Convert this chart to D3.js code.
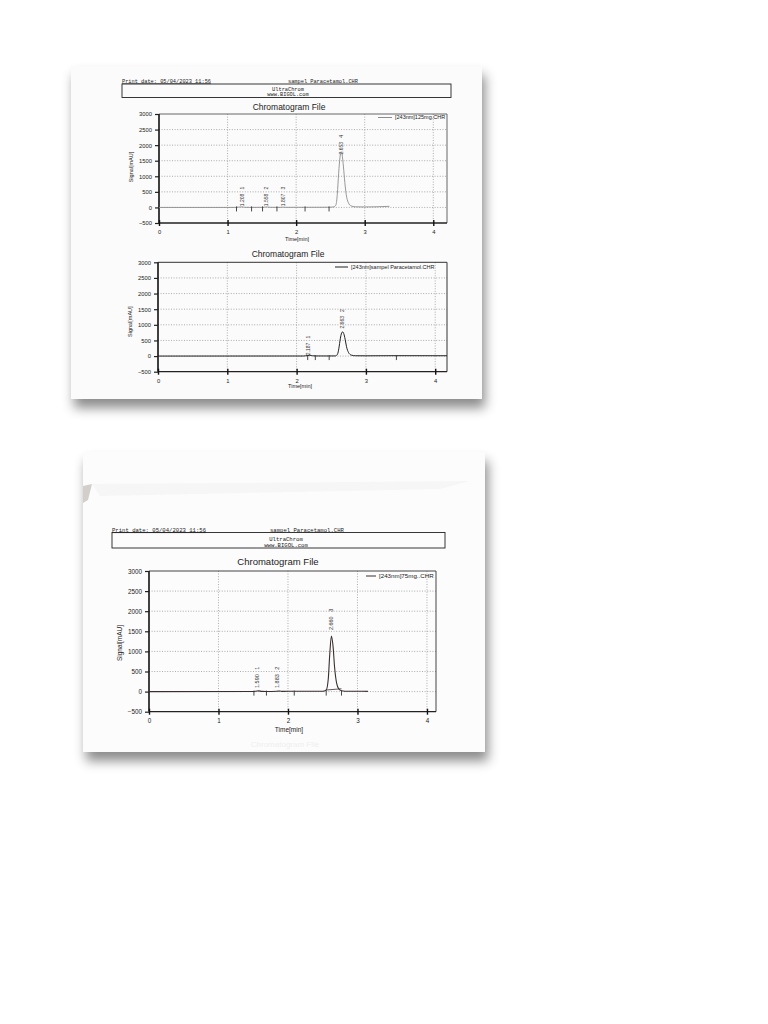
<!DOCTYPE html>
<html><head><meta charset="utf-8">
<script src="https://cdn.jsdelivr.net/npm/d3@7/dist/d3.min.js"></script>
<style>
html,body{margin:0;padding:0;background:#fff;}
svg{display:block;}
text{font-family:"Liberation Sans",Arial,sans-serif;fill:#222;}
.mono{font-family:"Liberation Mono","DejaVu Sans Mono",monospace;}
.pre{white-space:pre;}
</style>
</head><body>
<script>
// ---------- data ----------
const yTicks = [-500, 0, 500, 1000, 1500, 2000, 2500, 3000];
const xTicks = [0, 1, 2, 3, 4];
const chartTitle = "Chromatogram File";
const xAxisTitle = "Time[min]";
const yAxisTitle = "Signal[mAU]";
const printDate = "Print date: 05/04/2023 11:56";
const fileName = "sampel Paracetamol.CHR";
const softwareLines = ["UltraChrom", "www.BIGOL.com"];
const legendLabels = ["[243nm]125mg.CHR", "[243nm]sampel Paracetamol.CHR", "[243nm]75mg..CHR"];

// chart 1: 125 mg standard
const timeP1 = [0, 1.10, 1.13, 1.17, 1.21, 1.25, 1.35, 1.52, 1.55, 1.58, 1.62, 1.72, 1.78, 1.81, 1.84, 2.12, 2.48, 2.55, 2.58, 2.60, 2.62, 2.64, 2.655, 2.67, 2.69, 2.71, 2.73, 2.76, 2.80, 2.86, 3.00, 3.36];
const signalP1 = [0, 0, 3, 12, 18, 4, 2, 3, 12, 14, 4, 2, 4, 10, 3, 4, 6, 20, 80, 420, 1100, 1620, 1790, 1700, 1300, 800, 420, 160, 50, 20, 15, 35];
const marksP1 = [1.13, 1.35, 1.51, 1.72, 2.13, 2.48];
const peakPosP1 = [1.205, 1.56, 1.805, 2.653];
const peakBaseP1 = [40, 40, 40, 1700];
const peakTextP1 = ["1.208", "1.558", "1.807", "2.653"];
const peakNumP1 = ["1", "2", "3", "4"];

// chart 2: sample
const timeP2 = [0, 2.10, 2.15, 2.19, 2.23, 2.27, 2.47, 2.56, 2.59, 2.61, 2.63, 2.65, 2.665, 2.68, 2.70, 2.72, 2.75, 2.79, 2.85, 3.00, 3.44, 4.17];
const signalP2 = [0, 2, 15, 25, 10, 4, 3, 5, 60, 250, 550, 740, 775, 720, 540, 300, 110, 30, 10, 8, 12, 10];
const marksP2 = [2.16, 2.27, 2.47, 3.44];
const peakPosP2 = [2.17, 2.66];
const peakBaseP2 = [30, 880];
const peakTextP2 = ["2.187", "2.663"];
const peakNumP2 = ["1", "2"];

// chart 3: 75 mg standard
const timeP3 = [0, 1.50, 1.54, 1.58, 1.62, 1.69, 1.84, 1.88, 1.92, 2.09, 2.50, 2.55, 2.58, 2.60, 2.625, 2.65, 2.67, 2.70, 2.73, 2.77, 2.82, 3.00, 3.15];
const signalP3 = [0, 2, 10, 18, 6, 3, 8, 15, 5, 10, 8, 40, 320, 900, 1380, 1100, 620, 210, 70, 20, 10, 8, 6];
const marksP3 = [1.51, 1.69, 2.09, 2.55, 2.77];
const intBaseTimeP3 = [2.55, 2.77];
const intBaseSignalP3 = [40, 70];
const peakPosP3 = [1.55, 1.84, 2.62];
const peakBaseP3 = [90, 90, 1530];
const peakTextP3 = ["1.590", "1.883", "2.660"];
const peakNumP3 = ["1", "2", "3"];

// ---------- page ----------
const W = 768, H = 1024;
const svg = d3.select("body").append("svg").attr("width", W).attr("height", H);
const defs = svg.append("defs");
const f = defs.append("filter").attr("id", "shadow").attr("x", "-10%").attr("y", "-10%").attr("width", "125%").attr("height", "130%");
f.append("feDropShadow").attr("dx", 3).attr("dy", 9).attr("stdDeviation", 6).attr("flood-color", "#000").attr("flood-opacity", 0.45);

svg.append("rect").attr("width", W).attr("height", H).attr("fill", "#fff");

// paper sheets
svg.append("rect").attr("x", 71).attr("y", 66).attr("width", 411).attr("height", 333)
  .attr("fill", "#fbfbfb").attr("filter", "url(#shadow)");
svg.append("rect").attr("x", 83).attr("y", 452).attr("width", 402).attr("height", 300)
  .attr("fill", "#fcfcfc").attr("filter", "url(#shadow)");
// faint show-through / shading on second sheet
svg.append("polygon").attr("points", "83,486 92,484 88,500 83,503").attr("fill", "#d2cfca");
svg.append("polygon").attr("points", "92,484 470,481 440,489 100,496").attr("fill", "#f6f6f6");
svg.append("text").attr("x", 285).attr("y", 747).attr("text-anchor", "middle")
  .style("font-size", "8px").style("fill", "#efefef").text(chartTitle);

function header(cfg) {
  const g = svg.append("g");
  g.append("text").attr("class", "mono").attr("x", cfg.left).attr("y", cfg.dateY)
    .style("font-size", cfg.monoSize + "px").style("text-decoration", "underline").text(printDate);
  g.append("text").attr("class", "mono").attr("x", cfg.fileX).attr("y", cfg.dateY)
    .style("font-size", cfg.monoSize + "px").text(fileName);
  g.append("rect").attr("x", cfg.left).attr("y", cfg.boxTop).attr("width", cfg.right - cfg.left)
    .attr("height", cfg.boxH).attr("fill", "none").attr("stroke", "#222").attr("stroke-width", 0.9);
  softwareLines.forEach((s, i) => {
    g.append("text").attr("class", "mono").attr("x", cfg.cx).attr("y", cfg.line1Y + i * cfg.lineGap)
      .attr("text-anchor", "middle").style("font-size", cfg.monoSize + "px").text(s);
  });
}

function chart(cfg) {
  const x = d3.scaleLinear().domain([0, cfg.xMax]).range([cfg.x0, cfg.x1]);
  const y = d3.scaleLinear().domain([-500, 3000]).range([cfg.yBottom, cfg.yTop]);
  const g = svg.append("g");
  const fs = cfg.fs;

  g.append("text").attr("x", cfg.titleX).attr("y", cfg.titleY).attr("text-anchor", "middle")
    .style("font-size", cfg.titleSize + "px").text(chartTitle);

  // grid
  g.selectAll(".hg").data(yTicks.filter(v => v > -500 && v < 3000)).join("line")
    .attr("x1", cfg.x0).attr("x2", cfg.x1).attr("y1", d => y(d)).attr("y2", d => y(d))
    .attr("stroke", "#8a8a8a").attr("stroke-width", 0.7).attr("stroke-dasharray", "1,1.6");
  g.selectAll(".vg").data(xTicks.filter(v => v > 0)).join("line")
    .attr("x1", d => x(d)).attr("x2", d => x(d)).attr("y1", cfg.yTop).attr("y2", cfg.yBottom)
    .attr("stroke", "#8a8a8a").attr("stroke-width", 0.7).attr("stroke-dasharray", "1,1.6");

  // frame
  g.append("line").attr("x1", cfg.x0).attr("x2", cfg.x1).attr("y1", cfg.yTop).attr("y2", cfg.yTop)
    .attr("stroke", cfg.frameColor).attr("stroke-width", 1);
  g.append("line").attr("x1", cfg.x1).attr("x2", cfg.x1).attr("y1", cfg.yTop).attr("y2", cfg.yBottom)
    .attr("stroke", cfg.frameColor).attr("stroke-width", 1);
  g.append("line").attr("x1", cfg.x0).attr("x2", cfg.x1).attr("y1", cfg.yBottom).attr("y2", cfg.yBottom)
    .attr("stroke", "#222").attr("stroke-width", 1.3);
  g.append("line").attr("x1", cfg.x0).attr("x2", cfg.x0).attr("y1", cfg.yTop).attr("y2", cfg.yBottom)
    .attr("stroke", "#111").attr("stroke-width", 1.6);

  // axes
  const ya = d3.axisLeft(y).tickValues(yTicks).tickSize(4).tickPadding(3).tickFormat(d3.format("d"));
  const yg = g.append("g").attr("transform", `translate(${cfg.x0},0)`).call(ya);
  yg.select(".domain").remove();
  yg.selectAll("line").attr("stroke", "#222").attr("stroke-width", 1.2);
  yg.selectAll("text").style("font-size", fs + "px").style("font-family", '"Liberation Sans",Arial,sans-serif').attr("fill", "#222");

  const xa = d3.axisBottom(x).tickValues(xTicks).tickSize(3).tickPadding(4).tickFormat(d3.format("d"));
  const xg = g.append("g").attr("transform", `translate(0,${cfg.yBottom})`).call(xa);
  xg.select(".domain").remove();
  xg.selectAll("line").attr("stroke", "#111").attr("stroke-width", 1.4).attr("y1", -3);
  xg.selectAll("text").style("font-size", fs + "px").style("font-family", '"Liberation Sans",Arial,sans-serif').attr("fill", "#222");

  g.append("text").attr("x", cfg.xLabelX).attr("y", cfg.xLabelY).attr("text-anchor", "middle")
    .style("font-size", cfg.labelSize + "px").text(xAxisTitle);
  g.append("text").attr("transform", `translate(${cfg.yLabelX},${cfg.yLabelY}) rotate(-90)`)
    .attr("text-anchor", "middle").style("font-size", cfg.labelSize + "px").text(yAxisTitle);

  // legend
  g.append("line").attr("x1", cfg.legX).attr("x2", cfg.legX + cfg.legLen).attr("y1", cfg.legY).attr("y2", cfg.legY)
    .attr("stroke", cfg.traceColor).attr("stroke-width", 1);
  g.append("text").attr("x", cfg.legX + cfg.legLen + 3).attr("y", cfg.legY + cfg.legSize * 0.35)
    .style("font-size", cfg.legSize + "px").text(cfg.legend);

  // trace
  const line = d3.line().x(d => x(d[0])).y(d => y(d[1])).curve(d3.curveMonotoneX);
  g.append("path").datum(d3.zip(cfg.time, cfg.signal)).attr("d", line)
    .attr("fill", "none").attr("stroke", cfg.traceColor).attr("stroke-width", cfg.traceWidth);

  if (cfg.intT) {
    g.append("path").datum(d3.zip(cfg.intT, cfg.intS)).attr("d", d3.line().x(d => x(d[0])).y(d => y(d[1])))
      .attr("fill", "none").attr("stroke", cfg.traceColor).attr("stroke-width", 0.8);
  }

  // integration marks
  g.selectAll(".mk").data(cfg.marks).join("line")
    .attr("x1", d => x(d)).attr("x2", d => x(d)).attr("y1", y(0) - 1).attr("y2", y(0) + 4)
    .attr("stroke", "#333").attr("stroke-width", 0.9);

  // peak labels
  cfg.peakPos.forEach((p, i) => {
    const px = x(p) + cfg.peakFs * 0.4, py = y(cfg.peakBase[i]);
    g.append("text").attr("class", "pre").attr("transform", `translate(${px},${py}) rotate(-90)`)
      .style("font-size", cfg.peakFs + "px").style("fill", "#333")
      .text(cfg.peakText[i] + "   " + cfg.peakNum[i]);
  });
}

// ---------- sheet 1 ----------
header({left: 122, right: 451, dateY: 82.5, fileX: 288, boxTop: 84, boxH: 13.5, cx: 288, line1Y: 90.5, lineGap: 5.5, monoSize: 5.3});
chart({x0: 159, x1: 447, xMax: 4.2, yTop: 114, yBottom: 223, fs: 5.8, titleX: 289, titleY: 109.5, titleSize: 8.5,
  xLabelX: 297, xLabelY: 240.5, yLabelX: 133, yLabelY: 167, labelSize: 5.5,
  legX: 378, legLen: 14, legY: 117.5, legSize: 5.5, legend: legendLabels[0],
  frameColor: "#666", traceColor: "#8c8c8c", traceWidth: 0.9,
  time: timeP1, signal: signalP1, marks: marksP1,
  peakPos: peakPosP1, peakBase: peakBaseP1, peakText: peakTextP1, peakNum: peakNumP1, peakFs: 5});

// ---------- sheet 1, chart 2 ----------
chart({x0: 158, x1: 447, xMax: 4.17, yTop: 262.3, yBottom: 371.7, fs: 5.8, titleX: 288, titleY: 257.3, titleSize: 8.5,
  xLabelX: 300, xLabelY: 388, yLabelX: 132, yLabelY: 321.7, labelSize: 5.5,
  legX: 335, legLen: 13, legY: 267, legSize: 5.5, legend: legendLabels[1],
  frameColor: "#333", traceColor: "#222", traceWidth: 1,
  time: timeP2, signal: signalP2, marks: marksP2,
  peakPos: peakPosP2, peakBase: peakBaseP2, peakText: peakTextP2, peakNum: peakNumP2, peakFs: 5});

// ---------- sheet 2 ----------
header({left: 112, right: 445, dateY: 531.5, fileX: 270, boxTop: 532.5, boxH: 15.5, cx: 286, line1Y: 540.5, lineGap: 6.5, monoSize: 5.6});
chart({x0: 149, x1: 436, xMax: 4.13, yTop: 571, yBottom: 711.7, fs: 6.3, titleX: 278, titleY: 565, titleSize: 9.5,
  xLabelX: 289, xLabelY: 731.5, yLabelX: 122, yLabelY: 643, labelSize: 6.5,
  legX: 366, legLen: 10, legY: 576, legSize: 6.2, legend: legendLabels[2],
  frameColor: "#444", traceColor: "#3a2f2f", traceWidth: 1.1,
  time: timeP3, signal: signalP3, marks: marksP3, intT: intBaseTimeP3, intS: intBaseSignalP3,
  peakPos: peakPosP3, peakBase: peakBaseP3, peakText: peakTextP3, peakNum: peakNumP3, peakFs: 5.5});
</script>
</body></html>
